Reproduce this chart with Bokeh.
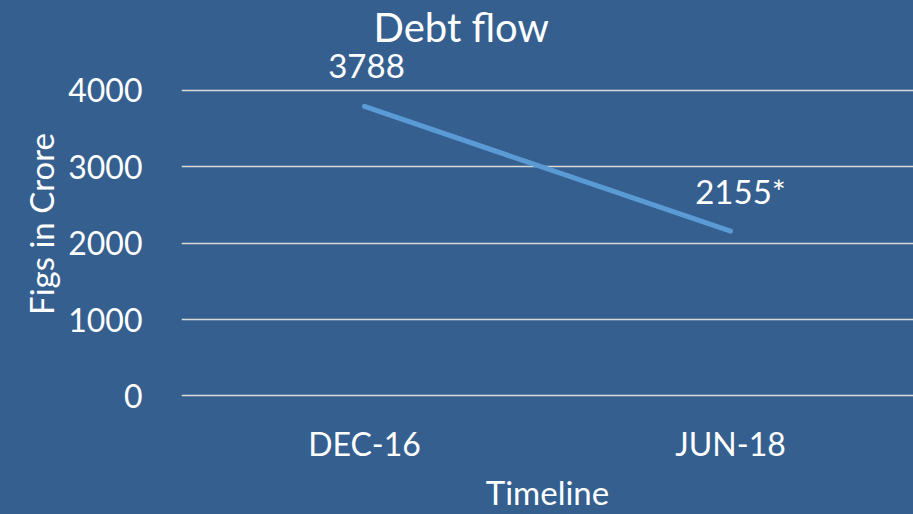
from bokeh.plotting import figure
from bokeh.models import ColumnDataSource, FixedTicker, Range1d, CDSView, IndexFilter
from bokeh.core.properties import value
from bokeh.embed import file_html
from bokeh.resources import INLINE

categories = ["DEC-16", "JUN-18"]
debt = [3788, 2155]
labels = ["3788", "2155*"]
y_ticks = [0, 1000, 2000, 3000, 4000]

BG = "#355F8F"
FONT = "Lato"
src = ColumnDataSource(dict(x=categories, y=debt, t=labels))

p = figure(x_range=categories, y_range=Range1d(-20, 4519), width=913, height=514,
           output_backend="svg", toolbar_location=None,
           title="Debt flow", min_border_left=181, min_border_right=0,
           min_border_top=0, min_border_bottom=117)
p.background_fill_color = BG
p.border_fill_color = BG
p.outline_line_color = None

p.title.align = "left"
p.title.offset = 192
p.title.standoff = 0
p.title.text_color = "white"
p.title.text_font = FONT
p.title.text_font_size = "40px"
p.title.text_font_style = "normal"

p.line(x="x", y="y", source=src, line_color="#5B9BD5", line_width=5, line_cap="round")
for idx, dx in ((0, 2), (1, 10)):
    p.text(x="x", y="y", text="t", source=src, view=CDSView(filter=IndexFilter([idx])),
           text_color="white", text_font=value(FONT),
           text_font_size="33px", text_align="center", text_baseline="middle",
           y_offset=-40, x_offset=dx)

p.xgrid.grid_line_color = None
p.ygrid.grid_line_color = "#D9D9D9"
p.ygrid.grid_line_width = 1.5
p.yaxis.ticker = FixedTicker(ticks=y_ticks)

for ax in (p.xaxis[0], p.yaxis[0]):
    ax.axis_line_color = None
    ax.major_tick_line_color = None
    ax.minor_tick_line_color = None
    ax.major_label_text_color = "white"
    ax.major_label_text_font = FONT
    ax.major_label_text_font_size = "32px"
    ax.axis_label_text_color = "white"
    ax.axis_label_text_font = FONT
    ax.axis_label_text_font_size = "33px"
    ax.axis_label_text_font_style = "normal"

p.yaxis.axis_label = "Figs in Crore"
p.xaxis.axis_label = "Timeline"
p.yaxis.major_label_standoff = 33
p.yaxis.axis_label_standoff = 4
p.xaxis.major_label_standoff = 20
p.xaxis.axis_label_standoff = 6

html = file_html(p, INLINE)
html = html.replace("<head>", "<head><style>html,body{margin:0;padding:0;background:%s;overflow:hidden}</style>" % BG, 1)
open("out.html", "w").write(html)
